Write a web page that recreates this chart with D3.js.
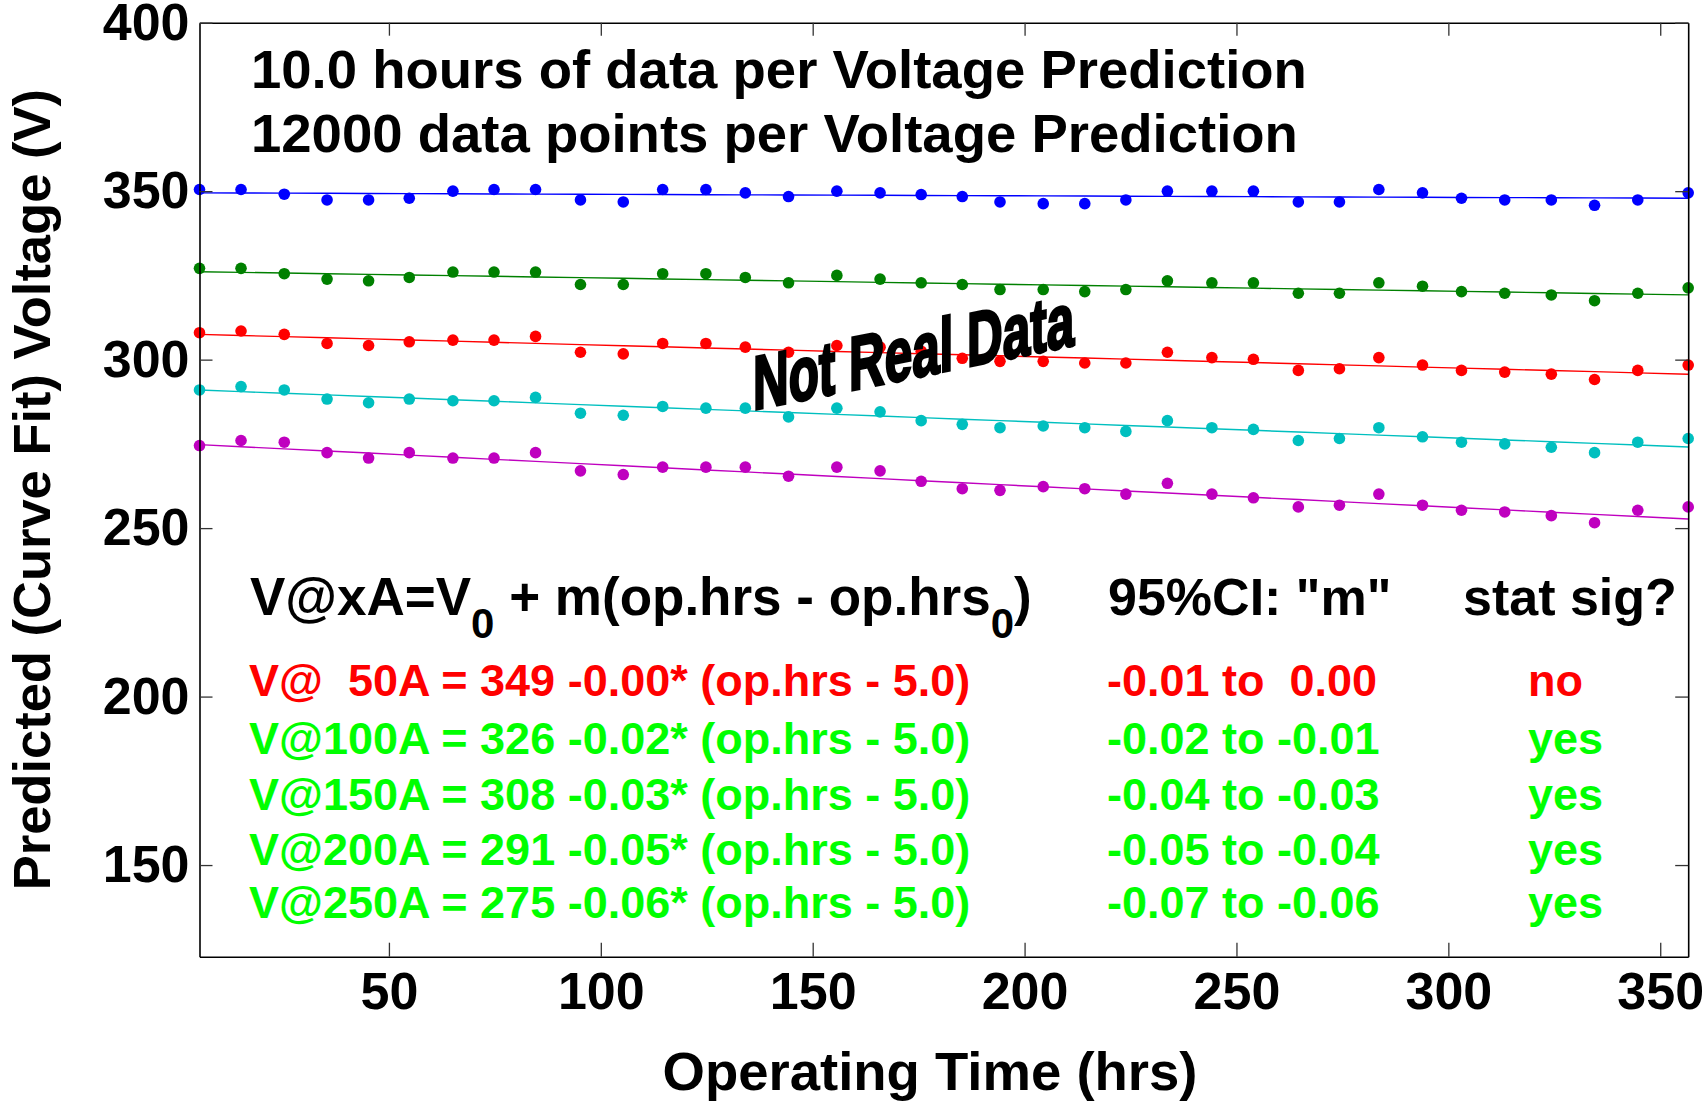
<!DOCTYPE html>
<html>
<head>
<meta charset="utf-8">
<script src="https://cdn.jsdelivr.net/npm/d3@7"></script>
<style>
  html, body { margin: 0; padding: 0; background: #fff; }
  svg { display: block; }
  text { font-family: "Liberation Sans", Arial, sans-serif; font-weight: bold; white-space: pre; }
</style>
</head>
<body>
<svg id="chart" width="1706" height="1105"></svg>
<script>
// ---------- data ----------
const hours = [5.3, 15.1, 25.3, 35.4, 45.2, 54.8, 65.1, 74.8, 84.6, 95.2, 105.3, 114.6,
  124.8, 134.1, 144.3, 155.7, 165.9, 175.6, 185.3, 194.2, 204.4, 214.2, 223.9, 233.7,
  244.2, 254.0, 264.6, 274.3, 283.6, 293.9, 303.1, 313.3, 324.3, 334.5, 344.7, 356.6];

const v50A = [350.5, 350.5, 349.1, 347.4, 347.4, 347.9, 350.0, 350.5, 350.5, 347.4, 346.8, 350.5,
  350.5, 349.5, 348.4, 350.0, 349.5, 349.0, 348.4, 346.8, 346.3, 346.3, 347.4, 350.0,
  350.0, 350.0, 346.8, 346.8, 350.5, 349.5, 347.9, 347.4, 347.4, 345.8, 347.4, 349.5];

const v100A = [327.1, 327.1, 325.5, 323.9, 323.4, 324.4, 326.0, 326.0, 326.0, 322.3, 322.3, 325.5,
  325.5, 324.4, 322.8, 325.0, 323.9, 322.8, 322.3, 320.8, 320.8, 320.2, 320.8, 323.4,
  322.8, 322.8, 319.7, 319.7, 322.8, 321.8, 320.2, 319.7, 319.2, 317.5, 319.7, 321.3];

const v150A = [308.0, 308.5, 307.5, 304.8, 304.2, 305.3, 305.8, 305.8, 306.9, 302.2, 301.7, 304.8,
  304.8, 303.7, 302.2, 304.2, 303.7, 302.5, 300.4, 299.5, 299.5, 299.0, 299.0, 302.2,
  300.6, 300.1, 296.8, 297.3, 300.6, 298.4, 296.8, 296.3, 295.7, 294.1, 296.8, 298.4];

const v200A = [291.0, 292.0, 291.0, 288.3, 287.2, 288.3, 287.8, 287.8, 288.8, 284.1, 283.5, 286.1,
  285.6, 285.6, 283.0, 285.6, 284.5, 281.9, 280.8, 279.8, 280.3, 279.8, 278.7, 281.9,
  279.8, 279.3, 276.0, 276.6, 279.8, 277.1, 275.5, 275.0, 274.0, 272.4, 275.5, 276.6];

const v250A = [274.5, 276.0, 275.5, 272.4, 270.8, 272.4, 270.8, 270.8, 272.4, 267.0, 265.9, 268.1,
  268.1, 268.1, 265.4, 268.1, 267.0, 263.9, 261.7, 261.2, 262.3, 261.7, 260.1, 263.3,
  260.1, 259.0, 256.3, 256.8, 260.1, 256.8, 255.3, 254.8, 253.7, 251.6, 255.3, 256.3];

// curve-fit line: V = V0 + m*(op.hrs - op.hrs0)
const opHrs0 = 5.0;
const fitV0 = [349.5, 326.1, 307.5, 291.0, 274.8];
const fitSlope = [-0.00455, -0.0196, -0.0336, -0.0481, -0.0629];

const seriesColors = ["#0000ff", "#008000", "#ff0000", "#00bfbf", "#bf00bf"];

const xTicks = [50, 100, 150, 200, 250, 300, 350];
const yTicks = [150, 200, 250, 300, 350, 400];

const titleLines = ["10.0 hours of data per Voltage Prediction", "12000 data points per Voltage Prediction"];
const eqLabels = ["V@  50A = 349 -0.00* (op.hrs - 5.0)", "V@100A = 326 -0.02* (op.hrs - 5.0)",
  "V@150A = 308 -0.03* (op.hrs - 5.0)", "V@200A = 291 -0.05* (op.hrs - 5.0)", "V@250A = 275 -0.06* (op.hrs - 5.0)"];
const ciLabels = ["-0.01 to  0.00", "-0.02 to -0.01", "-0.04 to -0.03", "-0.05 to -0.04", "-0.07 to -0.06"];
const sigLabels = ["no", "yes", "yes", "yes", "yes"];
const sigColors = ["#ff0000", "#00ff00", "#00ff00", "#00ff00", "#00ff00"];

// ---------- layout ----------
const svg = d3.select("#chart");
const L = 199.5, R = 1688.2, T = 22.7, B = 956.7;
const x = d3.scaleLinear().domain([5.3, 356.6]).range([L, R]);
const y = d3.scaleLinear().domain([122.8, 400]).range([B, T]);

const allSeries = [v50A, v100A, v150A, v200A, v250A];

// fit lines
const lineGen = d3.line().x(d => x(d[0])).y(d => y(d[1]));
allSeries.forEach((s, i) => {
  const pts = hours.map(h => [h, fitV0[i] + fitSlope[i] * (h - opHrs0)]);
  svg.append("path").attr("d", lineGen(pts))
    .attr("fill", "none").attr("stroke", seriesColors[i]).attr("stroke-width", 1.4);
});
// points
allSeries.forEach((s, i) => {
  svg.append("g").selectAll("circle").data(s).join("circle")
    .attr("cx", (d, j) => x(hours[j])).attr("cy", d => y(d))
    .attr("r", 5.8).attr("fill", seriesColors[i]);
});

// axes
function styleAxis(g) {
  g.select(".domain").attr("stroke", "#000").attr("stroke-width", 1.6);
  g.selectAll(".tick line").attr("stroke", "#333").attr("stroke-width", 1.3);
  g.selectAll(".tick text").attr("fill", "#000").style("font-size", "52px")
    .style("font-family", "'Liberation Sans', Arial, sans-serif").style("font-weight", "bold");
}
svg.append("g").attr("transform", `translate(0,${B})`)
  .call(d3.axisBottom(x).tickValues(xTicks).tickSize(-14).tickSizeOuter(0).tickPadding(15).tickFormat(d3.format("d")))
  .call(styleAxis);
svg.append("g").attr("transform", `translate(0,${T})`)
  .call(d3.axisTop(x).tickValues(xTicks).tickSize(-13).tickSizeOuter(0).tickFormat(""))
  .call(styleAxis);
svg.append("g").attr("transform", `translate(${L},0)`)
  .call(d3.axisLeft(y).tickValues(yTicks).tickSize(-13).tickSizeOuter(0).tickPadding(10).tickFormat(d3.format("d")))
  .call(styleAxis);
svg.append("g").attr("transform", `translate(${R},0)`)
  .call(d3.axisRight(y).tickValues(yTicks).tickSize(-13).tickSizeOuter(0).tickFormat(""))
  .call(styleAxis);

// axis titles
svg.append("text").attr("x", 930).attr("y", 1090).attr("text-anchor", "middle")
  .style("font-size", "54.5px").text("Operating Time (hrs)");
svg.append("text").attr("transform", `translate(50,${(T + B) / 2}) rotate(-90)`).attr("text-anchor", "middle")
  .style("font-size", "52.5px").text("Predicted (Curve Fit) Voltage (V)");

// title lines
titleLines.forEach((t, i) => {
  svg.append("text").attr("x", 251).attr("y", 88 + i * 63.5).style("font-size", "54.5px").text(t);
});

// header
const hdr = svg.append("text").attr("x", 250).attr("y", 615).style("font-size", "53px");
hdr.append("tspan").text("V@xA=V");
hdr.append("tspan").attr("dy", 23).style("font-size", "42px").text("0");
hdr.append("tspan").attr("dy", -23).text(" + m(op.hrs - op.hrs");
hdr.append("tspan").attr("dy", 23).style("font-size", "42px").text("0");
hdr.append("tspan").attr("dy", -23).text(")");
svg.append("text").attr("x", 1108).attr("y", 615).style("font-size", "52px").text('95%CI: "m"');
svg.append("text").attr("x", 1463).attr("y", 615).style("font-size", "52px").text("stat sig?");

// equation rows
const rowY = [696, 754, 810, 865, 918];
eqLabels.forEach((t, i) => {
  svg.append("text").attr("x", 249).attr("y", rowY[i]).attr("fill", sigColors[i])
    .style("font-size", "45px").text(t);
  svg.append("text").attr("x", 1107).attr("y", rowY[i]).attr("fill", sigColors[i])
    .style("font-size", "45px").text(ciLabels[i]);
  svg.append("text").attr("x", 1528).attr("y", rowY[i]).attr("fill", sigColors[i])
    .style("font-size", "45px").text(sigLabels[i]);
});

// watermark
svg.append("text")
  .attr("transform", "translate(753,410) skewY(-11.4) scale(0.65,1)")
  .style("font-size", "76px").attr("fill", "#000").attr("stroke", "#000").attr("stroke-width", 3)
  .text("Not Real Data");
</script>
</body>
</html>
